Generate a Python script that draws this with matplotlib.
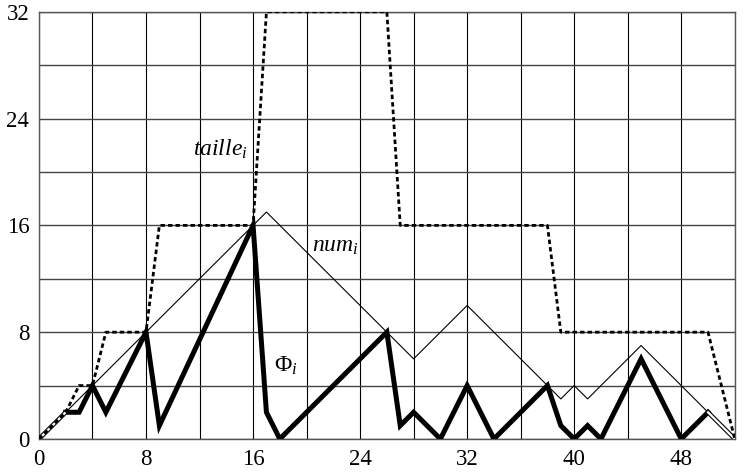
import matplotlib.pyplot as plt

## données
i_phi = [2, 3, 4, 5, 8, 9, 16, 17, 18, 26, 27, 28, 30, 32, 34, 38, 39, 40, 41, 42, 45, 48, 50]
phi = [2, 2, 4, 2, 8, 1, 16, 2, 0, 8, 1, 2, 0, 4, 0, 4, 1, 0, 1, 0, 6, 0, 2]
i_phi_start = [0, 2]
phi_start = [0, 2]
i_phi_end = [50, 52]
phi_end = [2, 0]

i_num = [0, 17, 28, 32, 39, 40, 41, 45, 52]
num = [0, 17, 6, 10, 3, 4, 3, 7, 0]

i_taille = [0, 2, 3, 4, 5, 8, 9, 16, 17, 26, 27, 38, 39, 50, 52]
taille = [0, 2, 4, 4, 8, 8, 16, 16, 32, 32, 16, 16, 8, 8, 0]

x_ticks = [0, 8, 16, 24, 32, 40, 48]
y_ticks = [0, 8, 16, 24, 32]

plt.rcParams['font.family'] = ['Liberation Serif', 'DejaVu Serif']
plt.rcParams['mathtext.fontset'] = 'custom'
plt.rcParams['mathtext.rm'] = 'Liberation Serif'
plt.rcParams['mathtext.it'] = 'Liberation Serif:italic'

fig = plt.figure(figsize=(7.49, 4.72), dpi=100)
ax = fig.add_axes([0.052, 0.070, 0.929, 0.905])

# grille tous les 4
ax.set_xticks(range(0, 53, 4))
ax.set_yticks(range(0, 33, 4))
ax.set_xticklabels([str(v) if v in x_ticks else '' for v in range(0, 53, 4)])
ax.set_yticklabels([str(v) if v in y_ticks else '' for v in range(0, 33, 4)])
ax.xaxis.grid(True, color='black', linewidth=0.8)
ax.yaxis.grid(True, color='#444444', linewidth=1.0)
ax.tick_params(length=0, labelsize=16.5)
ax.tick_params(axis='x', pad=7)
ax.tick_params(axis='y', pad=7)
for s in ax.spines.values():
    s.set_linewidth(1.0)
    s.set_color('#555555')
ax.set_xlim(0, 52)
ax.set_ylim(0, 32)

ax.plot(i_num, num, color='black', linewidth=0.8, zorder=3)
ax.plot(i_phi, phi, color='black', linewidth=3.6, solid_joinstyle='miter', zorder=4)
for xs, ys in [(i_phi_start, phi_start), (i_phi_end, phi_end)]:
    ax.plot(xs, ys, color='black', linewidth=3.2, zorder=4)
    ax.plot(xs, ys, color='white', linewidth=1.6, zorder=4)
ax.plot(i_taille, taille, color='black', linewidth=2, linestyle=(0, (1.6, 1.1)), zorder=5)

ax.text(11.5, 21.7, r'$taille_i$', fontsize=17, va='center')
ax.text(20.4, 14.4, r'$num_i$', fontsize=17, va='center')
ax.text(17.6, 5.5, r'$\Phi_i$', fontsize=17, va='center')

fig.savefig('out.png', dpi=100)
